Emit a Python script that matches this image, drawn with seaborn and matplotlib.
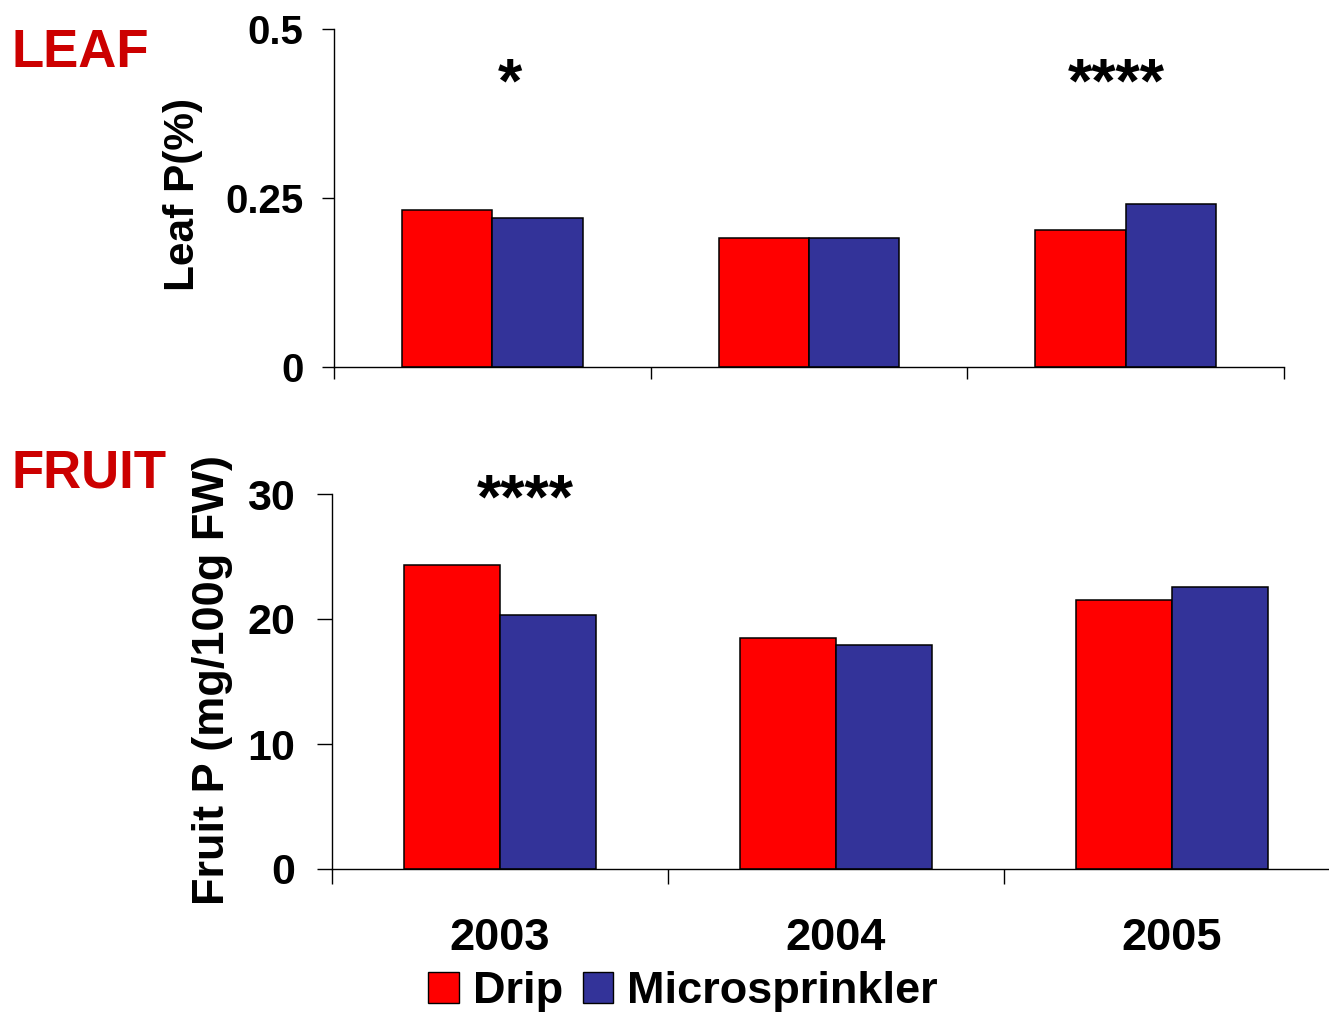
import pandas as pd
import matplotlib
matplotlib.use("Agg")
import matplotlib.pyplot as plt
import seaborn as sns

years = ["2003", "2004", "2005"]
systems = ["Drip", "Microsprinkler"]
leaf_drip = [0.232, 0.191, 0.203]
leaf_micro = [0.220, 0.191, 0.241]
fruit_drip = [24.3, 18.5, 21.5]
fruit_micro = [20.3, 17.9, 22.6]
leaf_stars = ["*", "", "****"]
fruit_stars = ["****", "", ""]

colors = {"Drip": "#FF0000", "Microsprinkler": "#333399"}
text_red = "#CC0000"


def make_frame(drip, micro):
    return pd.DataFrame({
        "Year": years * 2,
        "System": ["Drip"] * 3 + ["Microsprinkler"] * 3,
        "Value": list(drip) + list(micro),
    })


sns.set_theme(style="white")
plt.rcParams["font.family"] = ["Liberation Sans", "DejaVu Sans"]
plt.rcParams["font.weight"] = "bold"
for key in ["text.color", "axes.labelcolor", "xtick.color", "ytick.color"]:
    plt.rcParams[key] = "black"

fig = plt.figure(figsize=(13.29, 10.14), dpi=100)
W, H = 1329, 1014
ax_top = fig.add_axes([334 / W, 1 - 367 / H, (1284 - 334) / W, (367 - 29) / H])
ax_bot = fig.add_axes([332 / W, 1 - 869 / H, (1340 - 332) / W, (869 - 494) / H])

# (axis, data, yticks, labels, ylabel, stars, ymax, tick size, tick len, pad,
#  label size, label coords, star y, star offsets)
panels = [
    (ax_top, make_frame(leaf_drip, leaf_micro), [0, 0.25, 0.5], ["0", "0.25", "0.5"],
     "Leaf P(%)", leaf_stars, 0.5, 29, 8.5, 13.5, 30.5, (-0.138, 0.512),
     0.417, [0.055, 0, -0.03]),
    (ax_bot, make_frame(fruit_drip, fruit_micro), [0, 10, 20, 30], ["0", "10", "20", "30"],
     "Fruit P (mg/100g FW)", fruit_stars, 30, 31, 10.5, 16, 32.5, (-0.098, 0.504),
     29.45, [0.075, 0, 0]),
]

for (ax, df, yt, ytl, ylab, stars, ymax, tsize, tlen, tpad, lsize, lcoords,
     star_y, star_dx) in panels:
    sns.barplot(data=df, x="Year", y="Value", hue="System", order=years,
                hue_order=systems, palette=colors, width=0.57,
                edgecolor="black", linewidth=1.1, saturation=1,
                errorbar=None, legend=False, ax=ax)
    ax.set_xlim(-0.5, 2.5)
    ax.set_ylim(0, ymax)
    ax.set_yticks(yt)
    ax.set_yticklabels(ytl, fontsize=tsize, fontweight="bold")
    ax.set_xticks([-0.5, 0.5, 1.5, 2.5])
    ax.set_xticklabels([])
    ax.tick_params(axis="both", which="major", direction="out", length=tlen,
                   width=1.0, color="black", left=True, bottom=True)
    ax.tick_params(axis="y", which="major", pad=tpad)
    ax.set_xlabel("")
    ax.set_ylabel(ylab, fontsize=lsize, fontweight="bold")
    ax.yaxis.set_label_coords(*lcoords)
    for s in ["top", "right"]:
        ax.spines[s].set_visible(False)
    for s in ["left", "bottom"]:
        ax.spines[s].set_color("black")
        ax.spines[s].set_linewidth(1.0)
    for i, st in enumerate(stars):
        if st:
            ax.text(i + star_dx[i], star_y, st, ha="center", va="center",
                    fontsize=45, fontweight="bold", clip_on=False)

ax_bot.set_xticks([0, 1, 2], minor=True)
ax_bot.set_xticklabels(years, minor=True, fontsize=32.5, fontweight="bold")
ax_bot.tick_params(axis="x", which="minor", length=0, pad=35)

fig.text(12 / W, 1 - 53 / H, "LEAF", color=text_red, fontsize=38,
         fontweight="bold", ha="left", va="center")
fig.text(12 / W, 1 - 473 / H, "FRUIT", color=text_red, fontsize=38,
         fontweight="bold", ha="left", va="center")

handles = [plt.Rectangle((0, 0), 1, 1, facecolor=colors[s], edgecolor="black",
                         linewidth=1) for s in systems]
fig.legend(handles, systems, loc="center", bbox_to_anchor=(683 / W, 1 - 992 / H),
           ncol=2, frameon=False, prop={"size": 32.5, "weight": "bold"},
           handlelength=0.67, handleheight=0.67, handletextpad=0.31,
           columnspacing=0.44, borderpad=0)

fig.savefig("out.png", dpi=100)
